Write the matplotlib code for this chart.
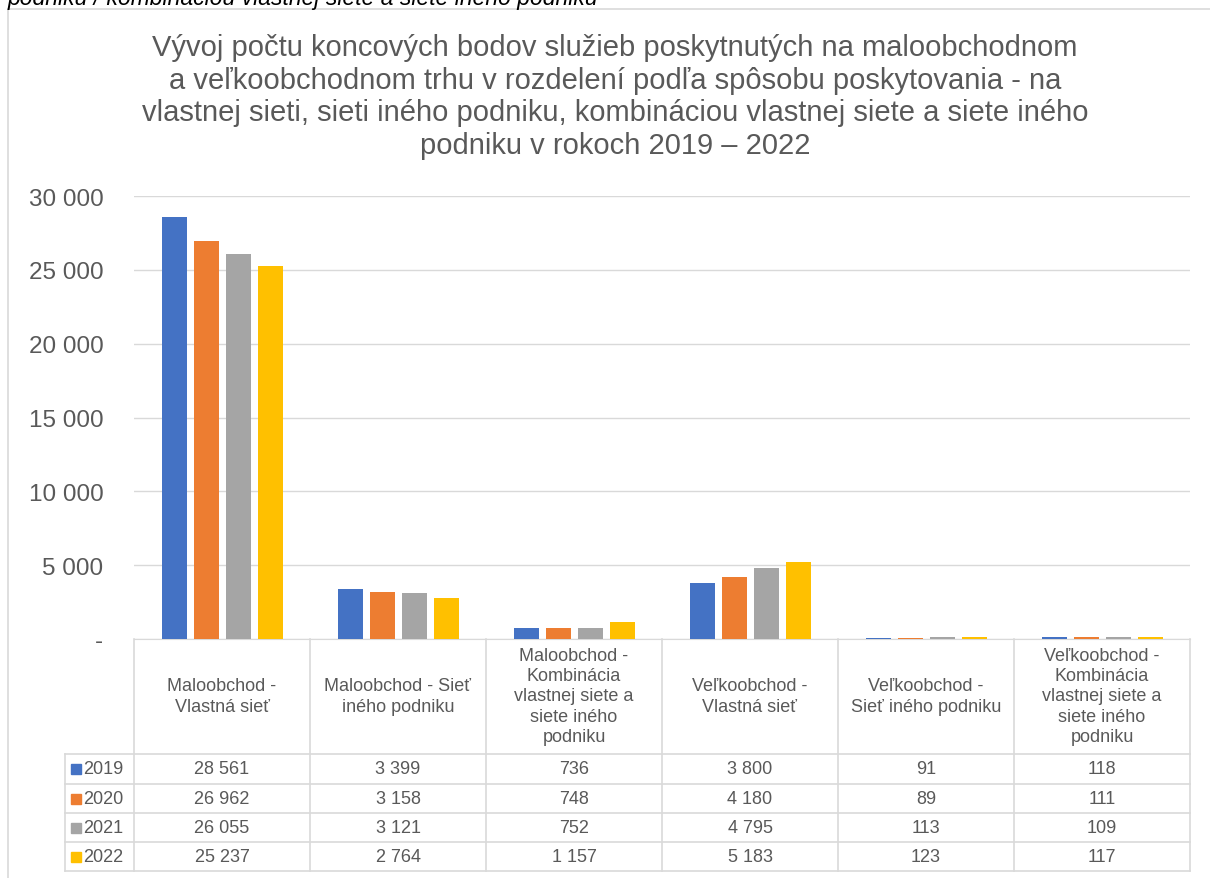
import numpy as np
import matplotlib.pyplot as plt
from matplotlib.patches import Rectangle

plt.rcParams['font.family'] = ['Liberation Sans', 'DejaVu Sans']

# data
categories = [
    "Maloobchod -\nVlastná sieť",
    "Maloobchod - Sieť\niného podniku",
    "Maloobchod -\nKombinácia\nvlastnej siete a\nsiete iného\npodniku",
    "Veľkoobchod -\nVlastná sieť",
    "Veľkoobchod -\nSieť iného podniku",
    "Veľkoobchod -\nKombinácia\nvlastnej siete a\nsiete iného\npodniku",
]
years = ["2019", "2020", "2021", "2022"]
v2019 = [28561, 3399, 736, 3800, 91, 118]
v2020 = [26962, 3158, 748, 4180, 89, 111]
v2021 = [26055, 3121, 752, 4795, 113, 109]
v2022 = [25237, 2764, 1157, 5183, 123, 117]
series = [v2019, v2020, v2021, v2022]
colors = ["#4472C4", "#ED7D31", "#A5A5A5", "#FFC000"]
yticks = [0, 5000, 10000, 15000, 20000, 25000, 30000]

title = ("Vývoj počtu koncových bodov služieb poskytnutých na maloobchodnom\n"
         "a veľkoobchodnom trhu v rozdelení podľa spôsobu poskytovania - na\n"
         "vlastnej sieti, sieti iného podniku, kombináciou vlastnej siete a siete iného\n"
         "podniku v rokoch 2019 – 2022")

txt = "#595959"
grid = "#D9D9D9"

def fmt(v):
    return f"{v:,}".replace(",", " ")

W, H = 1210, 879
fig = plt.figure(figsize=(W / 100, H / 100), dpi=100)

# outer chart border and the cut caption line above it
fig.patches.append(Rectangle((8 / W, -0.1), 1.2, 1 - 10 / H + 0.1, transform=fig.transFigure,
                             fill=False, edgecolor="#D9D9D9", lw=1.2))
fig.text(8 / W, 1 - 5 / H, "podniku / kombináciou vlastnej siete a siete iného podniku",
         fontsize=16.5, style="italic", color="black", va="baseline", ha="left")

# main bar axes
x0, x1 = 134, 1190
ytop, ybot = 197, 640
ax = fig.add_axes([x0 / W, 1 - ybot / H, (x1 - x0) / W, (ybot - ytop) / H])
x = np.arange(len(categories))
offsets = [-0.27, -0.088, 0.094, 0.276]
for vals, off, c in zip(series, offsets, colors):
    ax.bar(x + off, vals, width=0.142, color=c, zorder=3)
ax.set_xlim(-0.5, len(categories) - 0.5)
ax.set_ylim(0, 30000)
ax.set_yticks(yticks)
ax.set_yticklabels(["-" if t == 0 else fmt(t) for t in yticks], fontsize=17.5, color=txt)
ax.tick_params(axis="y", length=0, pad=22)
ax.set_xticks([])
ax.grid(axis="y", color=grid, lw=1, zorder=0)
for s in ["top", "right", "left"]:
    ax.spines[s].set_visible(False)
ax.spines["bottom"].set_color(grid)
fig.text(615 / W, 1 - 97 / H, title, ha="center", va="center", fontsize=21,
         color=txt, linespacing=1.2)

# data table below
tl = 65
tab_bot = 872
tax = fig.add_axes([tl / W, 1 - tab_bot / H, (x1 - tl) / W, (tab_bot - ybot) / H])
left_edge = -0.5 - (x0 - tl) / 176
tax.set_xlim(left_edge, len(categories) - 0.5)
tax.set_ylim(tab_bot - ybot, 0)
tax.axis("off")
rows = [115, 145, 174, 203, 232]
for r in rows:
    tax.plot([left_edge, len(categories) - 0.5], [r, r], color=grid, lw=1.2, clip_on=False)
for b in np.arange(-0.5, len(categories) + 0.5, 1):
    tax.plot([b, b], [0, rows[-1]], color=grid, lw=1.2, clip_on=False)
tax.plot([left_edge, left_edge], [rows[0], rows[-1]], color=grid, lw=1.2, clip_on=False)
for i, lab in enumerate(categories):
    tax.text(i, 57, lab, ha="center", va="center", fontsize=13, color=txt, linespacing=1.25)
for j, (vals, yr, c) in enumerate(zip(series, years, colors)):
    yc = (rows[j] + rows[j + 1]) / 2
    for i, v in enumerate(vals):
        tax.text(i, yc, fmt(v), ha="center", va="center", fontsize=13, color=txt)
    tax.plot([left_edge + 0.065], [yc], marker="s", ms=7, color=c, clip_on=False)
    tax.text(left_edge + 0.105, yc, yr, ha="left", va="center", fontsize=13, color=txt)

fig.savefig("out.png", dpi=100)
